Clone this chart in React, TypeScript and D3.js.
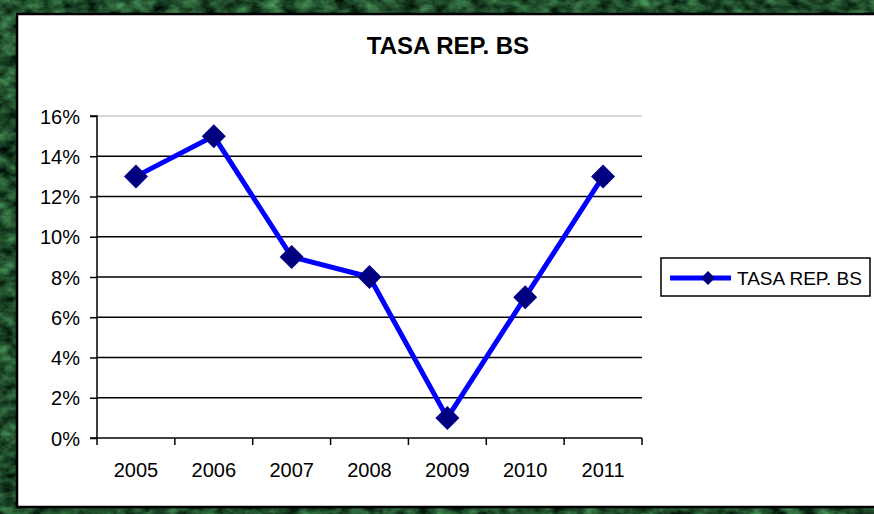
import React, { useEffect, useRef } from "react";
import * as d3 from "d3";

const categories = ["2005", "2006", "2007", "2008", "2009", "2010", "2011"];
const values = [0.13, 0.15, 0.09, 0.08, 0.01, 0.07, 0.13];
const yTicks = [0, 0.02, 0.04, 0.06, 0.08, 0.1, 0.12, 0.14, 0.16];
const seriesName = "TASA REP. BS";
const title = "TASA REP. BS";

const W = 874;
const H = 514;

export default function App() {
  const ref = useRef<SVGSVGElement>(null);

  useEffect(() => {
    document.body.style.margin = "0";
    const svg = d3.select(ref.current);
    svg.selectAll("*").remove();

    const defs = svg.append("defs");
    const filt = defs.append("filter").attr("id", "marble").attr("x", 0).attr("y", 0).attr("width", "100%").attr("height", "100%")
      .attr("color-interpolation-filters", "sRGB");
    filt.append("feTurbulence").attr("type", "fractalNoise").attr("baseFrequency", "0.06 0.09").attr("numOctaves", 4).attr("seed", 7).attr("result", "noise");
    filt.append("feColorMatrix").attr("in", "noise").attr("type", "matrix")
      .attr("values", "0.45 0 0 0 -0.1  0.8 0 0 0 -0.1  0.5 0 0 0 -0.08  0 0 0 0 1");

    // green textured background
    svg.append("rect").attr("width", W).attr("height", H).attr("fill", "#1d4a2a");
    svg.append("rect").attr("width", W).attr("height", H).attr("filter", "url(#marble)");

    // white chart panel
    svg.append("rect").attr("x", 17).attr("y", 14).attr("width", W + 10).attr("height", 493)
      .attr("fill", "#fff").attr("stroke", "#000").attr("stroke-width", 2.5);

    const left = 97, right = 642, top = 116, bottom = 438;
    const x = d3.scaleBand().domain(categories).range([left, right]);
    const y = d3.scaleLinear().domain([0, 0.16]).range([bottom, top]);

    const font = "'Liberation Sans', Arial, sans-serif";

    // title
    svg.append("text").attr("x", 448).attr("y", 54).attr("text-anchor", "middle")
      .attr("font-family", font).attr("font-weight", "bold").attr("font-size", 24).text(title);

    // gridlines
    svg.append("g").selectAll("line").data(yTicks.filter(t => t > 0)).join("line")
      .attr("x1", left).attr("x2", right)
      .attr("y1", d => y(d)).attr("y2", d => y(d))
      .attr("stroke", d => (d === 0.16 ? "#c8c8c8" : "#000"))
      .attr("stroke-width", 1.5);

    // y axis
    const yAxis = d3.axisLeft(y).tickValues(yTicks).tickSize(7).tickPadding(10)
      .tickFormat(d => `${Math.round((d as number) * 100)}%`);
    const gy = svg.append("g").attr("transform", `translate(${left},0)`).call(yAxis);
    gy.select(".domain").attr("stroke", "#000").attr("stroke-width", 1.5).attr("d", `M-7,${top}H0V${bottom}H-7`);
    gy.selectAll(".tick line").attr("stroke", "#000").attr("stroke-width", 1.5);
    gy.selectAll(".tick text").attr("font-family", font).attr("font-size", 20).attr("fill", "#000").attr("dy", "0.36em");

    // x axis
    const bounds = categories.map(c => x(c) as number).concat([right]);
    const gx = svg.append("g");
    gx.append("line").attr("x1", left).attr("x2", right).attr("y1", bottom).attr("y2", bottom)
      .attr("stroke", "#000").attr("stroke-width", 1.5);
    gx.selectAll("line.tk").data(bounds).join("line").attr("class", "tk")
      .attr("x1", d => d).attr("x2", d => d).attr("y1", bottom).attr("y2", bottom + 7)
      .attr("stroke", "#000").attr("stroke-width", 1.5);
    gx.selectAll("text").data(categories).join("text")
      .attr("x", d => (x(d) as number) + x.bandwidth() / 2).attr("y", 477)
      .attr("text-anchor", "middle").attr("font-family", font).attr("font-size", 20).text(d => d);

    // line
    const cx = (i: number) => (x(categories[i]) as number) + x.bandwidth() / 2;
    const line = d3.line<number>().x((_, i) => cx(i)).y(d => y(d));
    svg.append("path").datum(values).attr("d", line).attr("fill", "none")
      .attr("stroke", "#0000ff").attr("stroke-width", 5).attr("stroke-linejoin", "miter");

    const diamond = (r: number) => `M0,${-r}L${r},0L0,${r}L${-r},0Z`;
    svg.append("g").selectAll("path").data(values).join("path")
      .attr("transform", (d, i) => `translate(${cx(i)},${y(d)})`)
      .attr("d", diamond(12)).attr("fill", "#000080");

    // legend
    const lg = svg.append("g");
    lg.append("rect").attr("x", 661).attr("y", 258).attr("width", 209).attr("height", 38)
      .attr("fill", "#fff").attr("stroke", "#000").attr("stroke-width", 1.5);
    lg.append("line").attr("x1", 670).attr("x2", 731).attr("y1", 278).attr("y2", 278)
      .attr("stroke", "#0000ff").attr("stroke-width", 5);
    lg.append("path").attr("transform", "translate(708,278)").attr("d", diamond(7)).attr("fill", "#000080");
    lg.append("text").attr("x", 737).attr("y", 284.5).attr("font-family", font).attr("font-size", 19)
      .text(seriesName);
  }, []);

  return <svg ref={ref} width={W} height={H} style={{ display: "block" }} />;
}
